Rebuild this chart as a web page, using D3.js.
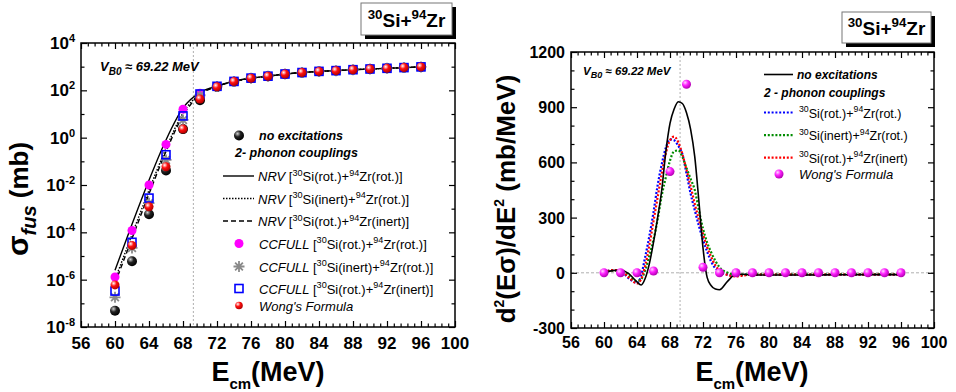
<!DOCTYPE html>
<html lang="en">
<head>
<meta charset="UTF-8">
<title>30Si+94Zr fusion and barrier distribution</title>
<script src="https://d3js.org/d3.v7.min.js"></script>
<style>
    body { margin: 0; background: #fff; }
    svg text { font-family: Arial, "Liberation Sans", sans-serif; fill: #000; }
    .axis path { display: none; }
    .axis line { stroke: #000; stroke-width: 1.2; }
</style>
</head>
<body>
<svg id="chart" width="956" height="392"></svg>
<script>
// ---------- data: left panel (fusion cross section, mb) ----------
const energies = [60, 62, 64, 66, 68, 70, 72, 74, 76, 78, 80, 82, 84, 86, 88, 90, 92, 94, 96];

const sigNoExc     = [4.9e-8, 6.0e-6, 5.8e-4, 4.1e-2, 2.3, 38, 138, 232, 322, 390, 485, 560, 628, 675, 740, 792, 848, 910, 975];
const sigCcRotRot  = [1.3e-6, 1.2e-4, 1.0e-2, 0.52, 16, 75, 150, 240, 330, 398, 492, 566, 634, 682, 746, 798, 854, 915, 980];
const sigCcInRot   = [1.8e-7, 2.2e-5, 1.7e-3, 0.115, 5.6, 62, 145, 236, 326, 394, 488, 563, 631, 678, 743, 795, 851, 912, 978];
const sigCcRotIn   = [3.3e-7, 3.8e-5, 2.8e-3, 0.19, 8.3, 70, 148, 238, 328, 396, 490, 564, 632, 680, 745, 797, 852, 913, 979];
const sigWong      = [6.0e-7, 2.8e-5, 1.2e-3, 5.9e-2, 2.3, 43, 140, 234, 324, 392, 487, 562, 630, 677, 742, 794, 850, 911, 977];

const nrvRotRot    = [2.5e-6, 2.2e-4, 1.6e-2, 0.8, 18, 82, 152, 242, 330, 398, 492, 566, 634, 682, 746, 798, 854, 915, 980];
const nrvInRot     = [1.0e-6, 8.0e-5, 6.0e-3, 0.35, 11, 72, 148, 238, 327, 395, 490, 564, 632, 680, 744, 796, 852, 913, 978];
const nrvRotIn     = [7.0e-7, 5.5e-5, 4.2e-3, 0.26, 8.5, 66, 146, 236, 325, 394, 489, 563, 631, 679, 743, 795, 851, 912, 977];

// ---------- data: right panel (barrier distribution, mb/MeV) ----------
const eFine = [60, 61, 62, 63, 64, 64.5, 65, 65.5, 66, 66.5, 67, 67.5, 68, 68.5, 69, 69.5, 70, 70.5,
               71, 71.5, 72, 72.5, 73, 73.5, 74, 75, 76, 77, 78, 80, 84, 88, 92, 96];
const dNoExc  = [0, 12, 15, -5, -50, -66, -30, 50, 165, 300, 450, 660, 812, 890, 930, 920, 870, 780,
                 631, 390, 135, -25, -70, -88, -92, -45, -8, -8, -12, -12, -12, -11, -10, -10];
const dRotRot = [0, 15, 10, -30, -55, -15, 88, 200, 330, 475, 590, 680, 725, 720, 690, 645, 540, 430,
                 340, 255, 180, 115, 60, 25, 8, -10, -15, -12, -10, -10, -10, -10, -10, -10];
const dInRot  = [0, 12, 12, -15, -45, -35, 15, 95, 180, 290, 420, 520, 610, 660, 665, 630, 570, 510,
                 450, 340, 240, 165, 110, 65, 30, 0, -10, -10, -8, -8, -8, -8, -8, -8];
const dRotIn  = [0, 15, 12, -25, -58, -35, 40, 150, 280, 410, 540, 650, 720, 740, 710, 645, 560, 470,
                 375, 290, 210, 140, 85, 40, 12, -12, -20, -14, -10, -10, -10, -10, -10, -10];
const dWong   = [0, 0, 0, 10, 550, 1025, 30, 0, 0, 0, 0, 0, 0, 0, 0, 0, 0, 0, 0];

const xTicks = [56, 60, 64, 68, 72, 76, 80, 84, 88, 92, 96, 100];
const vb0 = 69.22;

const svg = d3.select("#chart");

// gradients for the shaded balls
const defs = svg.append("defs");
function ball(id, hi, mid, lo) {
    const g = defs.append("radialGradient").attr("id", id)
        .attr("cx", "35%").attr("cy", "32%").attr("r", "70%");
    g.append("stop").attr("offset", "0%").attr("stop-color", hi);
    g.append("stop").attr("offset", "45%").attr("stop-color", mid);
    g.append("stop").attr("offset", "100%").attr("stop-color", lo);
}
ball("gBlack", "#d0d0d0", "#222", "#000");
ball("gRed", "#ffffff", "#ff1010", "#b00000");
ball("gMag", "#ffd8ff", "#ff20ff", "#b000b0");

// text with super/subscripts: parts = [{t, sup, sub, it, b, size}]
function rich(sel, parts, base) {
    let cur = 0;
    parts.forEach(p => {
        const s = p.size || (p.sup || p.sub ? base * 0.7 : base);
        const target = p.sup ? -base * 0.42 : p.sub ? base * 0.3 : 0;
        sel.append("tspan")
            .attr("dy", target - cur)
            .style("font-size", s + "px")
            .style("font-style", p.it ? "italic" : null)
            .style("font-weight", p.b ? "bold" : null)
            .text(p.t);
        cur = target;
    });
    return sel;
}

function frame(g, x, y, w, h, yMajor, yMinor, xMinor, labelSize, labelGap) {
    const mk = (axis, vals, size) => axis.tickValues(vals).tickSize(size).tickSizeOuter(0).tickFormat("");
    [[d3.axisBottom, `translate(0,${h})`], [d3.axisTop, "translate(0,0)"]].forEach(([ax, tr]) => {
        g.append("g").attr("class", "axis").attr("transform", tr).call(mk(ax(x), xTicks, -6));
        g.append("g").attr("class", "axis").attr("transform", tr).call(mk(ax(x), xMinor, -3.5));
    });
    [[d3.axisLeft, "translate(0,0)"], [d3.axisRight, `translate(${w},0)`]].forEach(([ax, tr]) => {
        g.append("g").attr("class", "axis").attr("transform", tr).call(mk(ax(y), yMajor, -6));
        g.append("g").attr("class", "axis").attr("transform", tr).call(mk(ax(y), yMinor, -3.5));
    });
    g.append("rect").attr("width", w).attr("height", h)
        .attr("fill", "none").attr("stroke", "#000").attr("stroke-width", 1.5);
    // x tick labels
    g.selectAll(".xl").data(xTicks).enter().append("text")
        .attr("x", d => x(d)).attr("y", h + labelGap)
        .attr("text-anchor", "middle").style("font-size", labelSize + "px").style("font-weight", "bold")
        .text(d => d);
}

function titleBox(x0, y0, w, h) {
    svg.append("rect").attr("x", x0 + 4).attr("y", y0 + 4).attr("width", w).attr("height", h).attr("fill", "#000");
    svg.append("rect").attr("x", x0).attr("y", y0).attr("width", w).attr("height", h)
        .attr("fill", "#fff").attr("stroke", "#777").attr("stroke-width", 1);
    rich(svg.append("text").attr("x", x0 + w / 2).attr("y", y0 + h - 8).attr("text-anchor", "middle")
        .style("font-weight", "bold"),
        [{t: "30", sup: 1}, {t: "Si+"}, {t: "94", sup: 1}, {t: "Zr"}], 19);
}

// minor x ticks: four between each pair of majors
const minorX = [];
[56, 60, 64, 68, 72, 76, 80, 84, 88, 92, 96].forEach(m => [0.8, 1.6, 2.4, 3.2].forEach(k => minorX.push(+(m + k).toFixed(1))));

// ================= LEFT PANEL =================
const L = {x: 81, y: 43, w: 374, h: 284};
const gl = svg.append("g").attr("transform", `translate(${L.x},${L.y})`);
const xL = d3.scaleLinear().domain([56, 100]).range([0, L.w]);
const yL = d3.scaleLog().domain([1e-8, 1e4]).range([L.h, 0]);
const yMajL = [1e-8, 1e-6, 1e-4, 1e-2, 1, 1e2, 1e4];
const yMinL = [1e-7, 1e-5, 1e-3, 1e-1, 10, 1e3];

gl.append("line").attr("x1", xL(vb0)).attr("x2", xL(vb0)).attr("y1", 0).attr("y2", L.h)
    .attr("stroke", "#b0b0b0").attr("stroke-width", 1).attr("stroke-dasharray", "2,2");

frame(gl, xL, yL, L.w, L.h, yMajL, yMinL, minorX, 17, 22);

yMajL.forEach(v => {
    rich(gl.append("text").attr("x", -6).attr("y", yL(v) + 6).attr("text-anchor", "end")
        .style("font-weight", "bold"),
        [{t: "10"}, {t: String(Math.round(Math.log10(v))), sup: 1, size: 11}], 17);
});

const lineL = vals => d3.line().curve(d3.curveMonotoneX)
    .x((d, i) => xL(energies[i])).y(d => yL(d))(vals);
[[nrvRotRot, null], [nrvInRot, "1.5,1.5"], [nrvRotIn, "5,3"]].forEach(([vals, dash]) => {
    gl.append("path").attr("d", lineL(vals)).attr("fill", "none")
        .attr("stroke", "#000").attr("stroke-width", 1.4).attr("stroke-dasharray", dash);
});

const star = d3.path();
[0, 45, 90, 135].forEach(a => {
    const r = 5.5, c = Math.cos(a * Math.PI / 180) * r, s = Math.sin(a * Math.PI / 180) * r;
    star.moveTo(-c, -s); star.lineTo(c, s);
});
const starPath = star.toString();

function drawL(vals, kind) {
    const sel = gl.selectAll(null).data(vals).enter();
    const px = (d, i) => xL(energies[i]), py = d => yL(d);
    if (kind === "black") sel.append("circle").attr("cx", px).attr("cy", py).attr("r", 5).attr("fill", "url(#gBlack)");
    if (kind === "mag") sel.append("circle").attr("cx", px).attr("cy", py).attr("r", 4.5).attr("fill", "#ff00ff");
    if (kind === "star") sel.append("path").attr("d", starPath)
        .attr("transform", (d, i) => `translate(${px(d, i)},${py(d)})`)
        .attr("stroke", "#8a8a8a").attr("stroke-width", 1.8);
    if (kind === "sq") sel.append("rect").attr("x", (d, i) => px(d, i) - 4).attr("y", d => py(d) - 4)
        .attr("width", 8).attr("height", 8).attr("fill", "none").attr("stroke", "#0000ff").attr("stroke-width", 1.6);
    if (kind === "red") sel.append("circle").attr("cx", px).attr("cy", py).attr("r", 4.5).attr("fill", "url(#gRed)");
}
drawL(sigNoExc, "black");
drawL(sigCcRotRot, "mag");
drawL(sigCcInRot, "star");
drawL(sigCcRotIn, "sq");
drawL(sigWong, "red");

// left legend
const lg = svg.append("g");
lg.append("circle").attr("cx", 239).attr("cy", 135.5).attr("r", 5).attr("fill", "url(#gBlack)");
lg.append("text").attr("x", 259).attr("y", 140).style("font-size", "12.5px")
    .style("font-weight", "bold").style("font-style", "italic").text("no excitations");
lg.append("text").attr("x", 235).attr("y", 157).style("font-size", "12.5px")
    .style("font-weight", "bold").style("font-style", "italic").text("2- phonon couplings");
const legRows = [
    {y: 176, dash: null, pre: "NRV", a: "Si(rot.)+", b: "Zr(rot.)]"},
    {y: 198.5, dash: "1.5,1.5", pre: "NRV", a: "Si(inert)+", b: "Zr(rot.)]"},
    {y: 221, dash: "5,3", pre: "NRV", a: "Si(rot.)+", b: "Zr(inert)]"},
    {y: 243.5, mark: "mag", pre: "CCFULL", a: "Si(rot.)+", b: "Zr(rot.)]"},
    {y: 266.5, mark: "star", pre: "CCFULL", a: "Si(inert)+", b: "Zr(rot.)]"},
    {y: 288.5, mark: "sq", pre: "CCFULL", a: "Si(rot.)+", b: "Zr(inert)]"}
];
legRows.forEach(r => {
    if (r.mark === undefined) {
        lg.append("line").attr("x1", 223).attr("x2", 254).attr("y1", r.y).attr("y2", r.y)
            .attr("stroke", "#000").attr("stroke-width", 1.4).attr("stroke-dasharray", r.dash);
    } else if (r.mark === "mag") {
        lg.append("circle").attr("cx", 239).attr("cy", r.y).attr("r", 4.5).attr("fill", "#ff00ff");
    } else if (r.mark === "star") {
        lg.append("path").attr("d", starPath).attr("transform", `translate(239,${r.y})`)
            .attr("stroke", "#8a8a8a").attr("stroke-width", 1.8);
    } else {
        lg.append("rect").attr("x", 235).attr("y", r.y - 4).attr("width", 8).attr("height", 8)
            .attr("fill", "none").attr("stroke", "#0000ff").attr("stroke-width", 1.6);
    }
    rich(lg.append("text").attr("x", r.mark ? 259 : 258).attr("y", r.y + 5),
        [{t: r.pre + " ", it: 1}, {t: "["}, {t: "30", sup: 1}, {t: r.a}, {t: "94", sup: 1}, {t: r.b}], 13);
});
lg.append("circle").attr("cx", 239).attr("cy", 305.5).attr("r", 3.8).attr("fill", "url(#gRed)");
lg.append("text").attr("x", 259).attr("y", 310.5).style("font-size", "13px").style("font-style", "italic")
    .text("Wong's Formula");

rich(svg.append("text").attr("x", 100).attr("y", 71).style("font-weight", "bold").style("font-style", "italic"),
    [{t: "V"}, {t: "B0", sub: 1, size: 10}, {t: " \u2248 69.22 MeV"}], 13);

titleBox(361, 3, 91, 32);

// axis titles left
rich(svg.append("text").attr("transform", "translate(28,199) rotate(-90)").attr("text-anchor", "middle")
    .style("font-weight", "bold"),
    [{t: "\u03c3", size: 30}, {t: "fus", sub: 1, it: 1, size: 20}, {t: " (mb)"}], 26);
rich(svg.append("text").attr("x", 268).attr("y", 381).attr("text-anchor", "middle").style("font-weight", "bold"),
    [{t: "E"}, {t: "cm", sub: 1, size: 15}, {t: "(MeV)"}], 27);

// ================= RIGHT PANEL =================
const R = {x: 571, y: 52, w: 363, h: 276};
const gr = svg.append("g").attr("transform", `translate(${R.x},${R.y})`);
const xR = d3.scaleLinear().domain([56, 100]).range([0, R.w]);
const yR = d3.scaleLinear().domain([-300, 1200]).range([R.h, 0]);
const yMajR = [-300, 0, 300, 600, 900, 1200];
const yMinR = [-200, -100, 100, 200, 400, 500, 700, 800, 1000, 1100];

gr.append("line").attr("x1", xR(vb0)).attr("x2", xR(vb0)).attr("y1", 0).attr("y2", R.h)
    .attr("stroke", "#b0b0b0").attr("stroke-width", 1).attr("stroke-dasharray", "2,2");
gr.append("line").attr("x1", 0).attr("x2", R.w).attr("y1", yR(0)).attr("y2", yR(0))
    .attr("stroke", "#b0b0b0").attr("stroke-width", 1).attr("stroke-dasharray", "3,2");

frame(gr, xR, yR, R.w, R.h, yMajR, yMinR, minorX, 16, 20);

yMajR.forEach(v => {
    gr.append("text").attr("x", -6).attr("y", yR(v) + 6).attr("text-anchor", "end")
        .style("font-size", "16px").style("font-weight", "bold").text(v);
});

const lineR = vals => d3.line().curve(d3.curveMonotoneX)
    .x((d, i) => xR(eFine[i])).y(d => yR(d))(vals);
const rightSeries = [
    {vals: dRotRot, color: "#0000ff", label: "Si(rot.)+", b: "Zr(rot.)"},
    {vals: dInRot, color: "#008c00", label: "Si(inert)+", b: "Zr(rot.)"},
    {vals: dRotIn, color: "#ff0000", label: "Si(rot.)+", b: "Zr(inert)"}
];
rightSeries.forEach(s => {
    gr.append("path").attr("d", lineR(s.vals)).attr("fill", "none")
        .attr("stroke", s.color).attr("stroke-width", 2.2).attr("stroke-dasharray", "2,1.8");
});
gr.append("path").attr("d", lineR(dNoExc)).attr("fill", "none")
    .attr("stroke", "#000").attr("stroke-width", 1.6);

gr.selectAll(null).data(dWong).enter().append("circle")
    .attr("cx", (d, i) => xR(energies[i])).attr("cy", d => yR(d))
    .attr("r", 4.5).attr("fill", "url(#gMag)");

// right legend
const rg = svg.append("g");
rg.append("line").attr("x1", 764).attr("x2", 793).attr("y1", 74.5).attr("y2", 74.5)
    .attr("stroke", "#000").attr("stroke-width", 1.6);
rg.append("text").attr("x", 797).attr("y", 79).style("font-size", "12px")
    .style("font-weight", "bold").style("font-style", "italic").text("no excitations");
rg.append("text").attr("x", 764).attr("y", 96.5).style("font-size", "12px")
    .style("font-weight", "bold").style("font-style", "italic").text("2 - phonon couplings");
rightSeries.forEach((s, i) => {
    const yy = 112.5 + i * 22.6;
    rg.append("line").attr("x1", 764).attr("x2", 793).attr("y1", yy).attr("y2", yy)
        .attr("stroke", s.color).attr("stroke-width", 2.2).attr("stroke-dasharray", "2,1.8");
    rich(rg.append("text").attr("x", 799).attr("y", yy + 5),
        [{t: "30", sup: 1}, {t: s.label}, {t: "94", sup: 1}, {t: s.b}], 12.5);
});
rg.append("circle").attr("cx", 779).attr("cy", 174).attr("r", 4.5).attr("fill", "url(#gMag)");
rg.append("text").attr("x", 799).attr("y", 179).style("font-size", "13px").style("font-style", "italic")
    .text("Wong's Formula");

rich(svg.append("text").attr("x", 583).attr("y", 75).style("font-weight", "bold").style("font-style", "italic"),
    [{t: "V"}, {t: "B0", sub: 1, size: 9}, {t: " \u2248 69.22 MeV"}], 11.5);

titleBox(842, 12, 89, 31);

rich(svg.append("text").attr("transform", "translate(515,199) rotate(-90)").attr("text-anchor", "middle")
    .style("font-weight", "bold"),
    [{t: "d"}, {t: "2", sup: 1, size: 14}, {t: "(E"}, {t: "\u03c3"}, {t: ")/dE"}, {t: "2", sup: 1, size: 14}, {t: " (mb/MeV)"}], 26);
rich(svg.append("text").attr("x", 752).attr("y", 381).attr("text-anchor", "middle").style("font-weight", "bold"),
    [{t: "E"}, {t: "cm", sub: 1, size: 15}, {t: "(MeV)"}], 27);
</script>
</body>
</html>
